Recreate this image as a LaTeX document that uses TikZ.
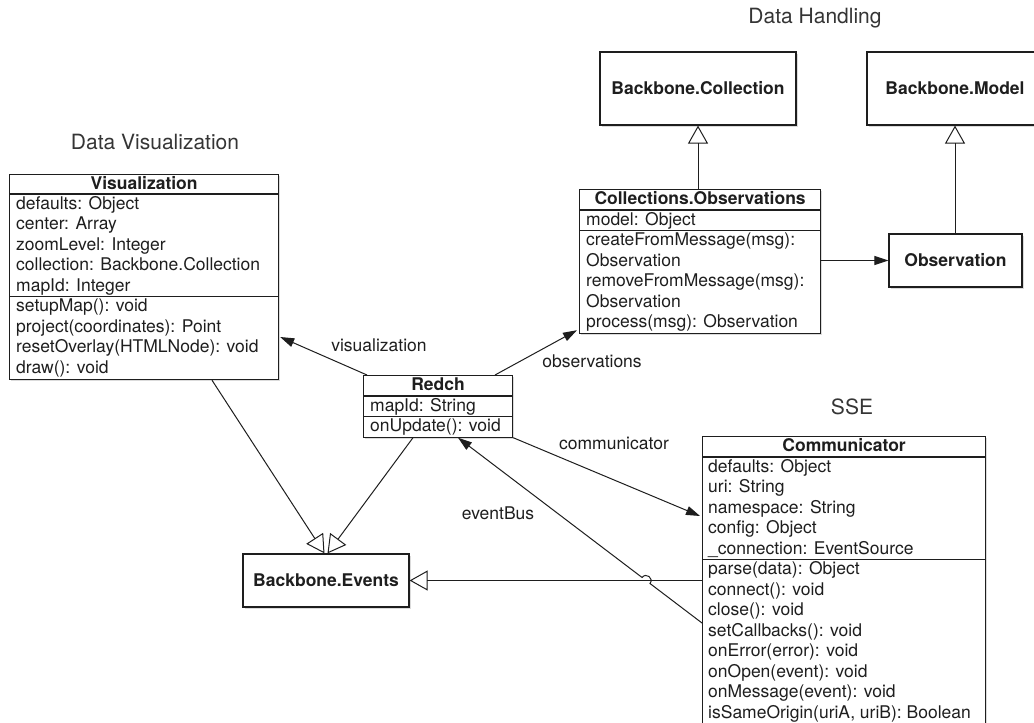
\documentclass[tikz,border=0pt]{standalone}
\usepackage{fontspec}
\setmainfont{TeX Gyre Heros}
\usetikzlibrary{arrows.meta,calc,shadows}
% fixed-height row strut: 15pt above the baseline, 5.5pt below
\newcommand\rowstrut{\rule[-5.5pt]{0pt}{20.5pt}}
\definecolor{ink}{HTML}{1E1E1E}
\begin{document}
\begin{tikzpicture}[x=1pt,y=-1pt,
  txt/.style={font=\fontsize{17.5}{20.5}\selectfont, text=ink, inner sep=0pt},
  rows/.style={txt, align=left, anchor=north west},
  head/.style={txt, anchor=north, font=\fontsize{17.5}{20.5}\selectfont\bfseries},
  umlbox/.style={draw=ink, line width=1.2pt, fill=white, inner sep=0pt, anchor=north west,
     drop shadow={shadow xshift=1.5pt, shadow yshift=-1.5pt, opacity=0.28}},
  plainbox/.style={umlbox, anchor=center, text=ink,
     font=\fontsize{17.5}{20.5}\selectfont\bfseries},
  divider/.style={draw=ink, line width=1.2pt},
  grouptitle/.style={font=\fontsize{21}{24}\selectfont, text=ink!90, anchor=base, inner sep=0pt},
  conn/.style={draw=ink, line width=1pt},
  assoc/.style={conn, -{Triangle[length=14pt, width=9pt]}},
  inherit/.style={conn, -{Triangle[open, length=18pt, width=20pt]}},
  lbl/.style={txt},
]
\useasboundingbox (0,0) rectangle (1034,723);
\fill[white] (0,0) rectangle (1034,723);
\clip (0,0) rectangle (1034,723);

% group titles
\node[grouptitle] (g-vis) at (155,149.5) {Data Visualization};
\node[grouptitle] (g-data) at (815,23) {Data Handling};
\node[grouptitle] (g-sse) at (852,414) {SSE};

% simple classes
\node[plainbox, minimum width=196pt, minimum height=73pt] (bcoll) at (698,88.5) {Backbone.Collection};
\node[plainbox, minimum width=176pt, minimum height=73pt] (bmodel) at (955,88.5) {Backbone.Model};
\node[plainbox, minimum width=133pt, minimum height=53pt] (observ) at (955.5,260.5) {Observation};
\node[plainbox, minimum width=166pt, minimum height=53pt] (bevents) at (326,580.5) {Backbone.Events};

% Visualization
\node[umlbox, minimum width=269pt, minimum height=205pt] (vis) at (9,174) {};
\draw[divider] (vis.west |- 0,194) -- (vis.east |- 0,194);
\draw[divider] (vis.west |- 0,296.5) -- (vis.east |- 0,296.5);
\node[head] (vis-h) at (vis.north) {\rowstrut Visualization};
\node[rows] (vis-a) at (16,194) {\rowstrut defaults: Object\\
  \rowstrut center: Array\\
  \rowstrut zoomLevel: Integer\\
  \rowstrut collection: Backbone.Collection\\
  \rowstrut mapId: Integer};
\node[rows] (vis-m) at (16,296.5) {\rowstrut setupMap(): void\\
  \rowstrut project(coordinates): Point\\
  \rowstrut resetOverlay(HTMLNode): void\\
  \rowstrut draw(): void};

% Collections.Observations
\node[umlbox, minimum width=241pt, minimum height=144pt] (obs) at (579,189) {};
\draw[divider] (obs.west |- 0,210) -- (obs.east |- 0,210);
\draw[divider] (obs.west |- 0,230.5) -- (obs.east |- 0,230.5);
\node[head] (obs-h) at ($(obs.north)+(0,0.5)$) {\rowstrut Collections.Observations};
\node[rows] (obs-a) at (586,210) {\rowstrut model: Object};
\node[rows] (obs-m) at (586,230.5) {\rowstrut createFromMessage(msg):\\
  \rowstrut Observation\\
  \rowstrut removeFromMessage(msg):\\
  \rowstrut Observation\\
  \rowstrut process(msg): Observation};

% Redch
\node[umlbox, minimum width=149pt, minimum height=61.5pt] (redch) at (363,375) {};
\draw[divider] (redch.west |- 0,396) -- (redch.east |- 0,396);
\draw[divider] (redch.west |- 0,416.5) -- (redch.east |- 0,416.5);
\node[head] (redch-h) at (redch.north) {\rowstrut Redch};
\node[rows] (redch-a) at (370,396) {\rowstrut mapId: String};
\node[rows] (redch-m) at (370,416) {\rowstrut onUpdate(): void};

% Communicator
\node[umlbox, minimum width=283pt, minimum height=290pt] (comm) at (702,436) {};
\draw[divider] (comm.west |- 0,457) -- (comm.east |- 0,457);
\draw[divider] (comm.west |- 0,559.5) -- (comm.east |- 0,559.5);
\node[head] (comm-h) at ($(comm.north)+(0,0.5)$) {\rowstrut Communicator};
\node[rows] (comm-a) at (708,457) {\rowstrut defaults: Object\\
  \rowstrut uri: String\\
  \rowstrut namespace: String\\
  \rowstrut config: Object\\
  \rowstrut \_connection: EventSource};
\node[rows] (comm-m) at (708,559.5) {\rowstrut parse(data): Object\\
  \rowstrut connect(): void\\
  \rowstrut close(): void\\
  \rowstrut setCallbacks(): void\\
  \rowstrut onError(error): void\\
  \rowstrut onOpen(event): void\\
  \rowstrut onMessage(event): void\\
  \rowstrut isSameOrigin(uriA, uriB): Boolean};

% associations from Redch
\draw[assoc] ($(redch.north west)+(4,0)$) -- ($(vis.north east)+(1,163)$);
\draw[assoc] ($(redch.north west)+(132,0)$) -- ($(obs.south west)+(-2,-4)$);
\draw[assoc] (redch.south east) -- ($(comm.north west)+(-2,80)$);
\draw[assoc] (obs.east |- observ.west) -- (observ.west);

% inheritance
\coordinate (ev-far) at (comm.west |- bevents.east);
\draw[inherit] ($(vis.south west)+(203,0)$) -- ($(bevents.north)+(-1.5,0)$);
\draw[inherit] ($(redch.south west)+(50,0)$) -- ($(bevents.north)+(1.5,0)$);
\draw[inherit] (ev-far) -- (bevents.east);
\draw[inherit] (bcoll.south |- obs.north) -- (bcoll.south);
\draw[inherit] (bmodel.south |- observ.north) -- (bmodel.south);

% eventBus, hopping over the Communicator -> Backbone.Events line
\coordinate (eb-s) at ($(comm.north west)+(0,187)$);
\coordinate (eb-e) at ($(redch.south west)+(95,0)$);
\coordinate (hop) at (intersection of eb-s--eb-e and ev-far--bevents.east);
\coordinate (hop-a) at ($(hop)!5pt!(eb-s)$);
\coordinate (hop-b) at ($(hop)!5pt!(eb-e)$);
\draw[assoc] (eb-s) -- (hop-a)
  .. controls ($(hop-a)!6.67pt!-90:(hop-b)$) and ($(hop-b)!6.67pt!90:(hop-a)$) .. (hop-b)
  -- (eb-e);

% role labels
\node[lbl] (l-vis) at (379,345) {visualization};
\node[lbl] (l-obs) at (592,361) {observations};
\node[lbl] (l-comm) at (614,443) {communicator};
\node[lbl] (l-eb) at (498,513) {eventBus};
\end{tikzpicture}
\end{document}
